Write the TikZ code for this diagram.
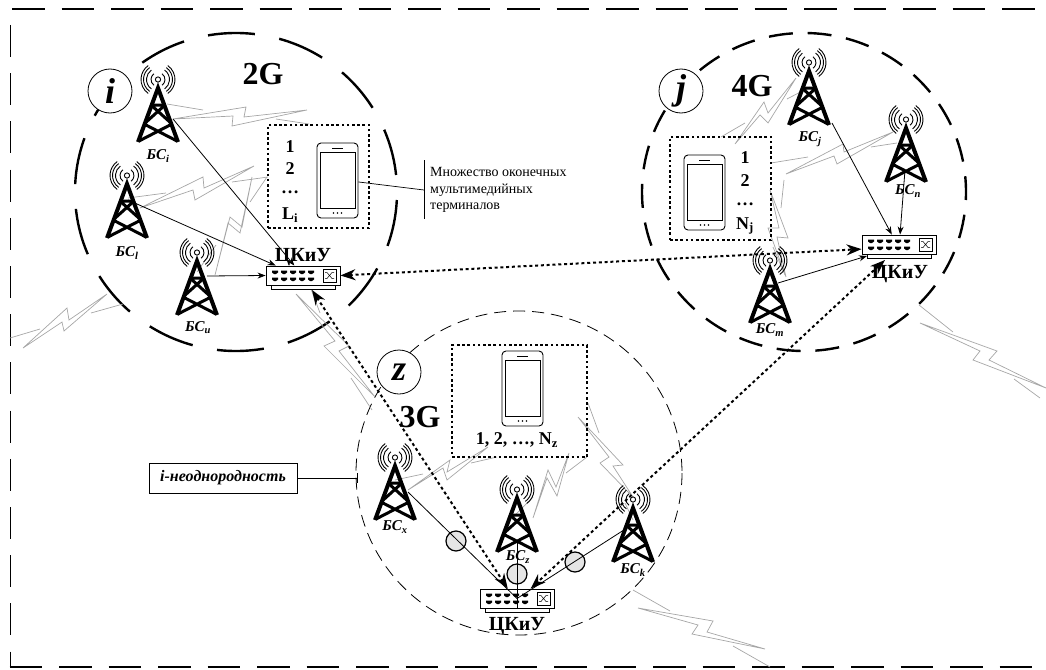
\documentclass[tikz,border=0pt]{standalone}
\usepackage{fontspec}
\setmainfont{Liberation Serif}
\usetikzlibrary{arrows.meta}

\tikzset{
  bolt/.style={draw=black!35,line width=0.7pt,line join=miter},
  link/.style={line width=0.8pt,-{Stealth[length=8pt,width=6pt]}},
  trunk/.style={line width=2pt,dash pattern=on 3pt off 2.8pt,{Stealth[length=15pt,width=11pt]}-{Stealth[length=15pt,width=11pt]}},
  areamark/.style={circle,draw,fill=white,line width=0.8pt,minimum size=44pt,inner sep=0pt,font=\fontsize{36}{36}\selectfont\bfseries\itshape},
  genlabel/.style={font=\fontsize{32}{32}\selectfont\bfseries},
  bslabel/.style={font=\fontsize{15}{15}\selectfont\bfseries\itshape},
  swlabel/.style={font=\fontsize{20}{20}\selectfont\bfseries},
  numlabel/.style={font=\fontsize{18}{18}\selectfont\bfseries},
  userbox/.style={draw,line width=1.5pt,dash pattern=on 2.6pt off 2.6pt},
  swbody/.style={draw,fill=white,line width=0.9pt,minimum width=74pt,minimum height=19pt,inner sep=0pt},
  phonebody/.style={draw,fill=white,line width=0.9pt,rounded corners=4pt,minimum width=41pt,minimum height=75pt,inner sep=0pt},
  lens/.style={circle,draw,fill=black!10,line width=1.2pt,minimum size=20pt,inner sep=0pt},
  tower/.pic={
    \draw[line width=4pt,line join=miter] (-20,55) -- (0,1) -- (20,55);
    \draw[line width=3pt] (-7,18) -- (7,18) (-7,18) -- (14,37) (7,18) -- (-14,37) (-14,37) -- (19,54) (14,37) -- (-19,54);
    \draw[line width=0.9pt,fill=white] (0,-7.5) circle (2.6pt);
    \foreach \r in {7,11.5,14.5,17}
    {
      \draw[line width=0.9pt] ([shift={(-55:\r)}]0,-7.5) arc (-55:55:\r);
      \draw[line width=0.9pt] ([shift={(125:\r)}]0,-7.5) arc (125:235:\r);
    }
  },
  swparts/.pic={
    \draw[line width=0.9pt,fill=white] (-32,9.5) rectangle (32,13.5);
    \foreach \x in {-28,-19,-10,-1,8}
    {
      \foreach \y in {-3.5,3.5}
      {
        \fill (\x-3,\y-1.5) -- (\x+3,\y-1.5) -- (\x+3,\y+0.5) -- (\x+1,\y+2) -- (\x-1,\y+2) -- (\x-3,\y+0.5) -- cycle;
      }
    }
    \draw[line width=0.7pt] (20,-6.5) rectangle (33,6.5);
    \draw[line width=0.5pt] (22,-3) -- (24,-3) -- (29,3) -- (31,3) (22,3) -- (24,3) -- (29,-3) -- (31,-3);
  },
  phoneparts/.pic={
    \draw[line width=0.9pt] (-17.5,-28) rectangle (17.5,28);
    \draw[line width=0.9pt] (-5.5,-32.5) -- (5.5,-32.5);
    \foreach \x in {-4,0,4}
    {
      \fill (\x,32.5) circle (0.9pt);
    }
  }
}

\begin{document}
\begin{tikzpicture}[x=1pt,y=-1pt]
\useasboundingbox (0,0) rectangle (1046,669);

% Outer frame
\draw[line width=1.3pt,dash pattern=on 32.5pt off 17pt] (12,9) -- (1046,9);
\draw[line width=1.3pt,dash pattern=on 32.5pt off 17pt] (9.5,667) -- (1046,667);
\draw[line width=1.3pt,dash pattern=on 32pt off 16.2pt] (10.5,25) -- (10.5,667);

% Areas
\draw[line width=2.4pt,dash pattern=on 47pt off 24.8pt,dash phase=63.8pt] (236,192) ellipse (161 and 159);
\draw[line width=2.4pt,dash pattern=on 24pt off 14.8pt,dash phase=16pt] (804,192) ellipse (162 and 159);
\draw[line width=0.8pt,dash pattern=on 12pt off 7pt] (519,473) ellipse (163 and 162);

% Radio links
\draw[bolt] (167,104) -- (203,110) (276,119) -- (309,124);
\draw[bolt] (173,119) -- (246,107) -- (244,117) -- (307,110) -- (232,126) -- (233,116) -- cycle;
\draw[bolt] (128,198) -- (166,193) (232,182) -- (268,177);
\draw[bolt] (140,208) -- (203,177) -- (204,188) -- (254,166) -- (195,200) -- (193,190) -- cycle;
\draw[bolt] (197,272) -- (216,245) (250,202) -- (267,177);
\draw[bolt] (215,275) -- (230,217) -- (242,227) -- (252,177) -- (240,233) -- (228,223) -- cycle;
\draw[bolt] (10,338) -- (40,329) (91,313) -- (123,304);
\draw[bolt] (23,348) -- (62,322) -- (64,331) -- (107,294) -- (69,320) -- (67,308) -- cycle;
\draw[bolt] (305,273) -- (320,313) (351,378) -- (372,410);
\draw[bolt] (296,294) -- (335,341) -- (324,346) -- (375,397) -- (339,351) -- (349,346) -- cycle;
\draw[bolt] (721,137) -- (745,123) (787,99) -- (810,87);
\draw[bolt] (735,144) -- (764,102) -- (768,113) -- (796,78) -- (768,123) -- (760,115) -- cycle;
\draw[bolt] (771,163) -- (808,157) (871,147) -- (897,143);
\draw[bolt] (786,174) -- (834,156) -- (837,164) -- (893,132) -- (844,152) -- (843,144) -- cycle;
\draw[bolt] (784,180) -- (781,208) (773,247) -- (785,275);
\draw[bolt] (770,190) -- (788,238) -- (777,237) -- (786,277) -- (768,228) -- (779,228) -- cycle;
\draw[bolt] (919,305) -- (953,332) (1014,379) -- (1040,398);
\draw[bolt] (920,323) -- (980,351) -- (973,360) -- (1046,388) -- (989,360) -- (997,351) -- cycle;
\draw[bolt] (395,480) -- (423,474) (471,463) -- (497,457);
\draw[bolt] (408,490) -- (450,460) -- (447,472) -- (488,447) -- (447,480) -- (443,468) -- cycle;
\draw[bolt] (515,515) -- (533,497) (566,473) -- (587,457);
\draw[bolt] (533,518) -- (547,478) -- (557,496) -- (569,453) -- (556,487) -- (548,470) -- cycle;
\draw[bolt] (625,503) -- (633,520) (588,403) -- (599,433);
\draw[bolt] (578,417) -- (623,465) -- (613,466) -- (633,497) -- (600,463) -- (609,457) -- cycle;
\draw[bolt] (633,590) -- (670,611) (733,646) -- (770,667);
\draw[bolt] (638,608) -- (698,625) -- (692,634) -- (765,649) -- (707,632) -- (713,621) -- cycle;

% Base stations
\foreach \px/\py/\lx/\ly/\nm in {158/87/158/156/i,127/183/127/253/l,197/260/198/328/u,809/70/810/139/j,906/127/908/191/n,770/268/770/330/m,395/465/395/527/x,517/497/518/557/z,633/507/633/570/k}
{
  \pic at (\px,\py) {tower};
  \node[bslabel] (bs\nm) at (\lx,\ly) {БС\textsubscript{\nm}};
}

% Switches
\node[swbody] (swi) at (303,275.5) {};
\pic at (swi) {swparts};
\node[swlabel] (swilab) at (303,257) {ЦКиУ};
\node[swbody] (swj) at (899,244.5) {};
\pic at (swj) {swparts};
\node[swlabel] (swjlab) at (900,274) {ЦКиУ};
\node[swbody] (swz) at (517,598.5) {};
\pic at (swz) {swparts};
\node[swlabel] (swzlab) at (517,626) {ЦКиУ};

% Terminals
\node[userbox,minimum width=101pt,minimum height=103pt] (boxi) at (318.5,176.5) {};
\node[phonebody] (phi) at (337.5,180.5) {};
\pic at (phi) {phoneparts};
\node[numlabel] (ni1) at (290,147) {1};
\node[numlabel] (ni2) at (290,169) {2};
\node[numlabel] (ni3) at (290,192) {…};
\node[numlabel] (ni4) at (290,215) {L\textsubscript{i}};

\node[userbox,minimum width=101pt,minimum height=103pt] (boxj) at (720.5,188.5) {};
\node[phonebody] (phj) at (704.5,192.5) {};
\pic at (phj) {phoneparts};
\node[numlabel] (nj1) at (745,158) {1};
\node[numlabel] (nj2) at (745,181) {2};
\node[numlabel] (nj3) at (745,204) {…};
\node[numlabel] (nj4) at (745,226) {N\textsubscript{j}};

\node[userbox,minimum width=135pt,minimum height=112pt] (boxz) at (519.5,401) {};
\node[phonebody] (phz) at (522.5,388.5) {};
\pic at (phz) {phoneparts};
\node[numlabel] (nz) at (517,440) {1, 2, …, N\textsubscript{z}};

% Links to switches
\coordinate (outi) at (173,119);
\coordinate (outl) at (128,200);
\coordinate (outu) at (207,276);
\coordinate (outj) at (832,123);
\coordinate (outn) at (905,170);
\coordinate (outm) at (778,283);
\coordinate (inm) at (867,256);
\coordinate (outx) at (408,492);
\coordinate (outz) at (517,540);
\coordinate (outk) at (627,528);
\node[lens] (lensx) at (456,541) {};
\node[lens] (lensz) at (517,574) {};
\node[lens] (lensk) at (575,562) {};
\draw[link] (outi) -- (swi.131);
\draw[link] (outl) -- (swi.160);
\draw[link] (outu) -- (swi.west);
\draw[link] (outj) -- (swj.126);
\draw[link] (outn) -- (swj.84);
\draw[link] (outm) -- (inm);
\draw[line width=0.8pt] (outx) -- (swz.center);
\draw[line width=0.8pt] (outk) -- (swz.center);
\draw[line width=0.8pt] (outz) -- (swz.south);

% Trunks between switches
\coordinate (swib) at (312,290);
\coordinate (swjb) at (885,260);
\draw[trunk] (swi.east) -- (swj.187);
\draw[trunk] (swib) -- (swz.133);
\draw[trunk] (swjb) -- (swz.36);

% Area names
\node[areamark] (marki) at (110,91) {i};
\node[areamark] (markj) at (681,91) {j};
\node[areamark] (markz) at (399,372) {z};
\node[genlabel] (gen2) at (263,74) {2G};
\node[genlabel] (gen4) at (752,86) {4G};
\node[genlabel] (gen3) at (420,417) {3G};

% Notes
\node[align=left,anchor=west,inner sep=0pt,font=\fontsize{14}{16.5}\selectfont] (note) at (430,190) {Множество оконечных\\мультимедийных\\терминалов};
\coordinate (notetick) at (424,190);
\draw[line width=0.7pt] (424,160) -- (424,219);
\draw[line width=0.7pt] (phi.-4) -- (notetick);
\node[draw,line width=0.8pt,minimum width=148pt,minimum height=30pt,inner sep=0pt,font=\fontsize{16}{16}\selectfont\bfseries\itshape] (hetero) at (223,478) {i-неоднородность};
\coordinate (heterotick) at (357,478);
\draw[line width=0.8pt] (hetero) -- (heterotick);
\draw[line width=0.8pt] (357,473) -- (357,483);

\end{tikzpicture}
\end{document}
